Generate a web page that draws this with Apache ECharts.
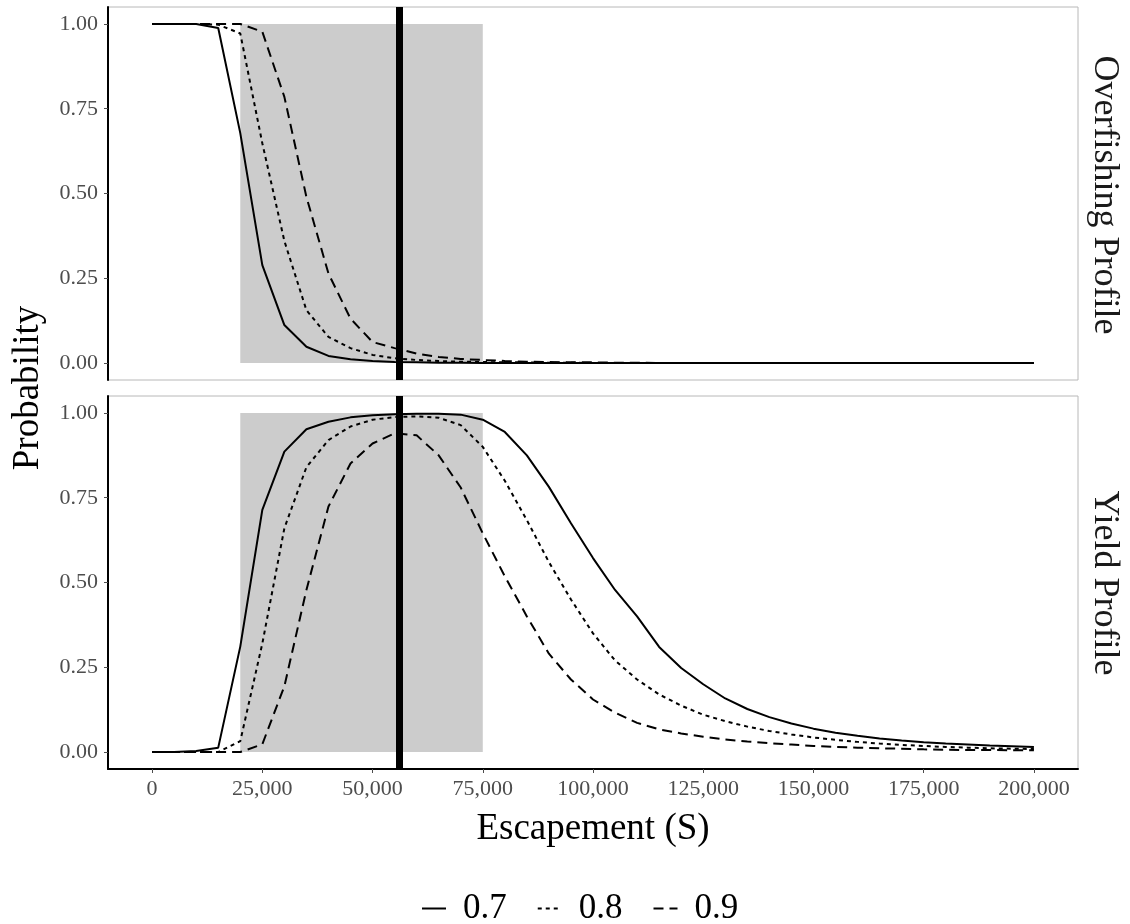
<!DOCTYPE html>
<html>
<head>
<meta charset="utf-8">
<script src="https://cdn.jsdelivr.net/npm/echarts@6/dist/echarts.min.js"></script>
<style>
  html, body { margin: 0; padding: 0; background: #fff; }
  #main { width: 1130px; height: 924px; }
</style>
</head>
<body>
<div id="main"></div>
<script>
// escapement grid (S)
var escapement = [0, 5000, 10000, 15000, 20000, 25000, 30000, 35000, 40000, 45000,
    50000, 55000, 60000, 65000, 70000, 75000, 80000, 85000, 90000, 95000,
    100000, 105000, 110000, 115000, 120000, 125000, 130000, 135000, 140000, 145000,
    150000, 155000, 160000, 165000, 170000, 175000, 180000, 185000, 190000, 195000, 200000];

// overfishing profile
var over70 = [1, 1, 1, 0.988, 0.678, 0.289, 0.112, 0.048, 0.021, 0.011,
    0.006, 0.003, 0.002, 0.001, 0.001, 0, 0, 0, 0, 0,
    0, 0, 0, 0, 0, 0, 0, 0, 0, 0,
    0, 0, 0, 0, 0, 0, 0, 0, 0, 0, 0];
var over80 = [1, 1, 1, 0.998, 0.972, 0.648, 0.36, 0.156, 0.077, 0.044,
    0.024, 0.014, 0.009, 0.006, 0.004, 0.003, 0.002, 0.002, 0.001, 0.001,
    0, 0, 0, 0, 0, 0, 0, 0, 0, 0,
    0, 0, 0, 0, 0, 0, 0, 0, 0, 0, 0];
var over90 = [1, 1, 1, 1, 1, 0.977, 0.785, 0.49, 0.264, 0.131,
    0.062, 0.044, 0.028, 0.018, 0.012, 0.009, 0.006, 0.004, 0.003, 0.002,
    0.002, 0.001, 0.001, 0, 0, 0, 0, 0, 0, 0,
    0, 0, 0, 0, 0, 0, 0, 0, 0, 0, 0];

// yield profile
var yield70 = [0, 0, 0.003, 0.013, 0.311, 0.714, 0.886, 0.952, 0.974, 0.987,
    0.993, 0.996, 0.998, 0.998, 0.995, 0.98, 0.944, 0.875, 0.782, 0.675,
    0.572, 0.478, 0.4, 0.31, 0.248, 0.2, 0.158, 0.127, 0.103, 0.084,
    0.069, 0.057, 0.048, 0.04, 0.034, 0.029, 0.025, 0.022, 0.019, 0.017, 0.015];
var yield80 = [0, 0, 0, 0, 0.032, 0.32, 0.66, 0.84, 0.92, 0.96,
    0.98, 0.988, 0.99, 0.986, 0.964, 0.9, 0.8, 0.684, 0.56, 0.45,
    0.35, 0.27, 0.214, 0.17, 0.137, 0.11, 0.091, 0.075, 0.062, 0.052,
    0.043, 0.036, 0.03, 0.025, 0.021, 0.018, 0.015, 0.013, 0.011, 0.01, 0.009];
var yield90 = [0, 0, 0, 0, 0, 0.023, 0.194, 0.478, 0.724, 0.851,
    0.91, 0.94, 0.934, 0.875, 0.78, 0.645, 0.518, 0.4, 0.29, 0.214,
    0.155, 0.116, 0.086, 0.067, 0.055, 0.045, 0.037, 0.031, 0.026, 0.022,
    0.018, 0.015, 0.013, 0.011, 0.01, 0.008, 0.007, 0.006, 0.006, 0.005, 0.005];

var xTicks = [0, 25000, 50000, 75000, 100000, 125000, 150000, 175000, 200000];
var yTicks = [0, 0.25, 0.5, 0.75, 1];
var goalRange = [20000, 75000];
var goalPoint = 56000;
var panelNames = ['Overfishing Profile', 'Yield Profile'];

var serif = 'Liberation Serif';

function pairs(ys) {
    return escapement.map(function(x, i) { return [x, ys[i]]; });
}

function makeX(idx, withLabels) {
    return {
        type: 'value', gridIndex: idx, min: -10000, max: 210000,
        splitLine: { show: false },
        axisLine: { show: withLabels, onZero: false, lineStyle: { color: '#000', width: 2 } },
        axisTick: { show: withLabels, customValues: xTicks, length: 4, lineStyle: { color: '#4d4d4d' } },
        axisLabel: {
            show: withLabels, customValues: xTicks, margin: 9,
            color: '#4d4d4d', fontFamily: serif, fontSize: 22,
            formatter: function(v) { return v.toLocaleString('en-US'); }
        },
        name: withLabels ? 'Escapement (S)' : '',
        nameLocation: 'middle', nameGap: 42,
        nameTextStyle: { color: '#000', fontFamily: serif, fontSize: 37 }
    };
}

function makeY(idx) {
    return {
        type: 'value', gridIndex: idx, min: -0.05, max: 1.05,
        splitLine: { show: false },
        axisLine: { show: true, onZero: false, lineStyle: { color: '#000', width: 2 } },
        axisTick: { show: true, customValues: yTicks, length: 4, lineStyle: { color: '#4d4d4d' } },
        axisLabel: {
            customValues: yTicks, margin: 10,
            color: '#4d4d4d', fontFamily: serif, fontSize: 22,
            formatter: function(v) { return v.toFixed(2); }
        }
    };
}

var styles = [
    { name: '0.7', type: 'solid' },
    { name: '0.8', type: [4, 4] },
    { name: '0.9', type: [10, 6] }
];

var series = [];
[0, 1].forEach(function(g) {
    // shaded goal range
    series.push({
        type: 'line', xAxisIndex: g, yAxisIndex: g, data: [], z: 1, silent: true,
        markArea: {
            silent: true,
            itemStyle: { color: '#cccccc' },
            data: [[{ xAxis: goalRange[0], yAxis: 0 }, { xAxis: goalRange[1], yAxis: 1 }]]
        }
    });
    var sets = g === 0 ? [over70, over80, over90] : [yield70, yield80, yield90];
    sets.forEach(function(ys, k) {
        series.push({
            name: styles[k].name, type: 'line', xAxisIndex: g, yAxisIndex: g,
            data: pairs(ys), symbol: 'none', z: 3, silent: true,
            itemStyle: { color: '#000' },
            lineStyle: { color: '#000', width: 2, type: styles[k].type }
        });
    });
    // escapement goal point
    series.push({
        type: 'line', xAxisIndex: g, yAxisIndex: g, data: [], z: 5, silent: true,
        markLine: {
            silent: true, symbol: 'none', label: { show: false },
            lineStyle: { color: '#000', width: 7, type: 'solid' },
            data: [{ xAxis: goalPoint }]
        }
    });
});

var myChart = echarts.init(document.getElementById('main'));
myChart.setOption({
    animation: false,
    backgroundColor: '#fff',
    grid: [
        { left: 108, top: 7, width: 970, height: 373, show: true, borderColor: '#b8b8b8', borderWidth: 1 },
        { left: 108, top: 396, width: 970, height: 373, show: true, borderColor: '#b8b8b8', borderWidth: 1 }
    ],
    xAxis: [makeX(0, false), makeX(1, true)],
    yAxis: [makeY(0), makeY(1)],
    legend: {
        data: ['0.7', '0.8', '0.9'],
        top: 886, left: 416,
        itemWidth: 24, itemHeight: 10, itemGap: 30,
        itemStyle: { opacity: 0 },
        textStyle: { color: '#000', fontFamily: serif, fontSize: 35, padding: [0, 0, 0, 12] }
    },
    graphic: [
        {
            type: 'text', x: 28, y: 388, rotation: Math.PI / 2,
            style: { text: 'Probability', fill: '#000', font: '37px "Liberation Serif"', align: 'center', verticalAlign: 'middle' }
        },
        {
            type: 'text', x: 1104, y: 195, rotation: -Math.PI / 2,
            style: { text: panelNames[0], fill: '#1a1a1a', font: '36px "Liberation Serif"', align: 'center', verticalAlign: 'middle' }
        },
        {
            type: 'text', x: 1104, y: 583, rotation: -Math.PI / 2,
            style: { text: panelNames[1], fill: '#1a1a1a', font: '36px "Liberation Serif"', align: 'center', verticalAlign: 'middle' }
        }
    ],
    series: series
});
</script>
</body>
</html>
